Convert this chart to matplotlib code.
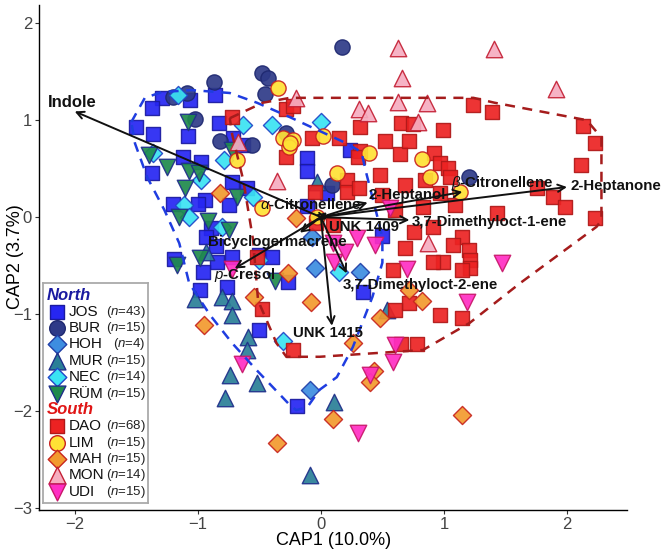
import matplotlib
matplotlib.use("Agg")
import matplotlib.pyplot as plt
import numpy as np

plt.rcParams['font.family'] = ['Liberation Sans', 'DejaVu Sans']
plt.rcParams['mathtext.fontset'] = 'custom'
plt.rcParams['mathtext.rm'] = 'Liberation Sans'
plt.rcParams['mathtext.it'] = 'Liberation Sans:italic'
plt.rcParams['mathtext.bf'] = 'Liberation Sans:bold'

# ---------------- data (CAP1, CAP2) ----------------
JOS_x = [-0.86, -1.06, -1.29, -1.37, -1.50, -1.36, -1.08, -0.83, -0.71, -1.37, -0.97, -0.72, -1.20,
         -0.94, -1.00, -0.75, -0.89, -0.72, -1.19, -0.63, 0.24, -0.11, -0.11, 0.05, -0.11, -0.50,
         -0.40, -0.27, -0.84, -0.96, -0.98, -0.76, -0.50, -0.19, 0.50, 0.34, -0.93, -1.12, -0.60, -0.85]
JOS_y = [1.26, 1.21, 1.23, 1.13, 0.93, 0.86, 0.84, 0.97, 0.82, 0.45, 0.57, 0.36, 0.14,
         0.18, 0.14, 0.12, -0.11, -0.41, -0.43, 0.74, 0.69, 0.61, 0.48, 0.25, 0.11, -0.39,
         -0.41, -0.67, -0.46, -0.57, -0.75, -0.72, -1.16, -1.95, -0.19, -0.77, -0.21, 0.62, 0.30, -0.30]
BUR_x = [0.17, -0.48, -0.43, -0.45, -0.87, -1.09, -1.20, -1.02, -0.82, -0.56, -0.28, 0.09, 1.20]
BUR_y = [1.75, 1.49, 1.43, 1.27, 1.39, 1.28, 1.24, 1.01, 0.79, 0.74, 0.87, 0.33, 0.41]
HOH_x = [-0.07, -0.05, 0.32, -0.09]
HOH_y = [-0.21, -0.52, -0.57, -1.78]
MUR_x = [-0.93, -1.02, -0.80, -0.72, -0.72, -0.59, -0.60, -0.74, -0.52, -0.78, 0.11, -0.09, -0.03, 0.54]
MUR_y = [-0.36, -0.84, -0.82, -0.86, -1.01, -1.24, -1.37, -1.63, -1.71, -1.87, -1.91, -2.66, 0.36, -0.96]
NEC_x = [-1.16, -0.63, -0.40, 0.00, -0.79, -1.36, -0.97, -1.11, -1.07, -0.55, -0.50, 0.15, -0.31, -0.80]
NEC_y = [1.26, 0.95, 0.95, 0.98, 0.59, 0.66, 0.38, 0.12, 0.00, 0.21, -0.44, -0.57, -1.28, -0.10]
RUM_x = [-1.08, -0.72, -1.40, -1.25, -1.07, -0.99, -1.10, -0.68, -1.15, -0.92, -0.75, -0.98, -1.17, -0.37]
RUM_y = [0.98, 0.69, 0.64, 0.52, 0.48, 0.46, 0.30, 0.21, 0.00, -0.04, -0.13, -0.42, -0.49, -0.66]
DAO_x = [-0.28, -0.23, 0.65, 0.75, 0.32, 0.99, 1.24, 1.39, 2.13, 2.23, 2.11, -0.72, -0.07, 0.15,
         0.32, 0.64, 0.92, -0.28, 0.30, 0.21, 0.21, 0.31, -0.05, -0.04, 0.10, 0.50, 0.60, 0.83,
         0.97, 1.03, 1.05, 0.97, 1.43, 1.76, 1.89, 1.98, 2.23, 1.15, 1.20, 1.21, 1.21, 1.15,
         0.99, 0.91, 0.59, 0.72, 0.97, 0.60, 1.15, 0.65, 0.78, -0.48, -0.23, 0.91,
         0.52, 0.72, 0.48, 0.68, 0.85, 0.76, 0.68, 1.07, 1.09, -0.52]
DAO_y = [1.12, 1.15, 0.97, 0.96, 0.93, 0.90, 1.16, 1.08, 0.94, 0.76, 0.54, 1.03, 0.82, 0.82,
         0.68, 0.65, 0.66, 0.62, 0.62, 0.38, 0.26, 0.30, 0.26, -0.06, -0.08, 0.23, 0.07, 0.10,
         0.56, 0.51, 0.41, 0.25, 0.04, 0.30, 0.21, 0.10, -0.01, -0.21, -0.34, -0.44, -0.52, -0.55,
         -0.46, -0.46, -0.55, -0.89, -1.01, -0.96, -1.04, -1.31, -1.31, -0.95, -1.37, -0.10,
         0.79, 0.79, 0.43, 0.33, 0.38, -0.15, -0.32, -0.29, 0.12, -0.41]
LIM_x = [-0.35, -0.31, -0.23, -0.26, 0.02, 0.39, 0.82, -0.68, 0.13, 0.89, 1.13, -0.03, -0.48, -0.25]
LIM_y = [1.33, 0.82, 0.80, 0.72, 0.84, 0.66, 0.60, 0.59, 0.46, 0.41, 0.26, 0.00, 0.09, 0.76]
MAH_x = [-0.82, -0.20, -0.27, -0.54, -0.08, 0.26, 0.48, 0.82, 0.72, 0.43, 0.40, 0.10, -0.36, 1.15, -0.95]
MAH_y = [0.25, -0.01, -0.58, -0.82, -0.88, -1.30, -1.04, -0.86, -0.75, -1.59, -1.70, -2.08, -2.33, -2.04, -1.11]
MON_x = [0.63, 1.41, 0.66, 1.91, -0.20, 0.31, 0.38, 0.63, 0.86, 0.79, -0.67, -0.36, 0.87]
MON_y = [1.74, 1.73, 1.43, 1.32, 1.23, 1.12, 1.07, 1.19, 1.18, 0.98, 0.77, 0.37, -0.27]
UDI_x = [0.29, 0.44, 0.10, 0.11, 0.56, 0.70, 1.47, 1.19, 0.60, 0.59, 0.40, 0.30, -0.72, -0.64, 0.20]
UDI_y = [-0.22, -0.29, -0.27, -0.46, 0.09, -0.53, -0.47, -0.88, -1.32, -1.49, -1.63, -2.23, -0.53, -1.51, -0.36]

north_hull_x = [-1.54, -1.43, -1.29, -1.05, -0.74, -0.52, -0.25, -0.03, 0.21, 0.33, 0.37, 0.46, 0.50, 0.50,
                0.42, 0.26, 0.13, -0.01, -0.11, -0.20, -0.25, -0.52, -0.72, -0.90, -1.07, -1.15, -1.27,
                -1.41, -1.51]
north_hull_y = [0.98, 1.23, 1.29, 1.31, 1.28, 1.18, 1.03, 0.90, 0.76, 0.67, 0.45, 0.00, -0.21, -0.47,
                -0.82, -1.34, -1.65, -1.78, -1.96, -1.99, -1.94, -1.58, -1.30, -1.01, -0.68, -0.27, 0.07,
                0.41, 0.76]
south_hull_x = [-0.74, -0.47, -0.25, 1.24, 1.41, 2.16, 2.28, 2.28, 2.24, 1.62, 1.21, 0.83, -0.01, -0.28,
                -0.36, -0.51, -0.55, -0.63, -0.72]
south_hull_y = [1.02, 1.18, 1.23, 1.23, 1.18, 1.00, 0.82, -0.03, -0.10, -0.68, -1.09, -1.37, -1.44, -1.44,
                -1.30, -0.86, -0.24, 0.38, 0.85]

vec_names = ['Indole', '2-Heptanone', r'$\beta$-Citronellene', '2-Heptanol', r'$\alpha$-Citronellene',
             'UNK 1409', '3,7-Dimethyloct-1-ene', 'Bicyclogermacrene', r'$p$-Cresol',
             '3,7-Dimethyloct-2-ene', 'UNK 1415']
vec_x = [-2.00, 2.00, 1.15, 0.38, 0.05, 0.05, 0.72, -0.17, -0.70, 0.21, 0.09]
vec_y = [1.09, 0.31, 0.26, 0.15, 0.05, -0.02, -0.03, -0.16, -0.53, -0.58, -1.12]
lab_x = [-2.02, 2.03, 1.47, 0.70, -0.08, 0.07, 0.74, -0.35, -0.62, 0.18, 0.06]
lab_y = [1.18, 0.32, 0.35, 0.23, 0.13, -0.10, -0.05, -0.26, -0.60, -0.70, -1.19]
lab_ha = ['center', 'left', 'center', 'center', 'center', 'left', 'left', 'center', 'center', 'left', 'center']
lab_fs = [12, 10.8, 10.8, 10.8, 10.8, 10.8, 10.8, 10.8, 10.8, 10.8, 10.8]

groups = ['JOS', 'BUR', 'HOH', 'MUR', 'NEC', 'RÜM', 'DAO', 'LIM', 'MAH', 'MON', 'UDI']
counts = [43, 15, 4, 15, 14, 15, 68, 15, 15, 14, 15]
gx = [JOS_x, BUR_x, HOH_x, MUR_x, NEC_x, RUM_x, DAO_x, LIM_x, MAH_x, MON_x, UDI_x]
gy = [JOS_y, BUR_y, HOH_y, MUR_y, NEC_y, RUM_y, DAO_y, LIM_y, MAH_y, MON_y, UDI_y]

# ---------------- styles ----------------
markers = ['s', 'o', 'D', '^', 'D', 'v', 's', 'o', 'D', '^', 'v']
sizes = [105, 120, 85, 140, 85, 140, 105, 120, 85, 140, 140]
faces = ['#2626f2', '#2e3a88', '#3d8de0', '#2a7f97', '#3ae3f3', '#1f8a4c',
         '#ec2222', '#ffe135', '#f29a2e', '#f6adc0', '#ff2ec4']
edges = ['#1a1aa0', '#1e2870', '#1f3ea8', '#1f2f8a', '#2046c8', '#1f2f8a',
         '#b01818', '#c8201f', '#c8251e', '#c42035', '#c8186a']

fig = plt.figure(figsize=(6.61, 5.51), dpi=100)
ax = fig.add_axes([0.059, 0.0744, 0.89, 0.917])

for i in range(len(groups)):
    ax.scatter(gx[i], gy[i], marker=markers[i], s=sizes[i], c=faces[i], edgecolors=edges[i],
               linewidths=1.0, alpha=0.92, zorder=3)

ax.plot(north_hull_x + north_hull_x[:1], north_hull_y + north_hull_y[:1], ls=(0, (4, 3)),
        color='#1f3de0', lw=1.8, zorder=4)
ax.plot(south_hull_x + south_hull_x[:1], south_hull_y + south_hull_y[:1], ls=(0, (4, 3)),
        color='#a51c1c', lw=1.8, zorder=4)

for i in range(len(vec_names)):
    ax.annotate('', xy=(vec_x[i], vec_y[i]), xytext=(0, 0),
                arrowprops=dict(arrowstyle='->', lw=1.4, color='#111111', mutation_scale=13,
                                shrinkA=0, shrinkB=0), zorder=5)
    ax.text(lab_x[i], lab_y[i], vec_names[i], ha=lab_ha[i], va='center', fontsize=lab_fs[i],
            fontweight='bold', color='#111111', zorder=6)

ax.set_xlim(-2.29, 2.49)
ax.set_ylim(-3.02, 2.19)
ax.set_xticks([-2, -1, 0, 1, 2])
ax.set_yticks([-3, -2, -1, 0, 1, 2])
ax.tick_params(labelsize=12, colors='#333333', length=3, width=0.8, pad=2)
ax.tick_params(axis='both', labelcolor='#444444')
for s in ['top', 'right']:
    ax.spines[s].set_visible(False)
for s in ['left', 'bottom']:
    ax.spines[s].set_linewidth(1.0)
ax.set_xlabel('CAP1 (10.0%)', fontsize=13, labelpad=0)
fig.text(0.023, 0.535, 'CAP2 (3.7%)', fontsize=13, rotation=90, ha='center', va='center')

# ---------------- legend ----------------
lax = fig.add_axes([0.065, 0.087, 0.159, 0.399])
lax.set_xlim(0, 1)
lax.set_ylim(0, 1)
lax.set_xticks([])
lax.set_yticks([])
lax.patch.set_facecolor('white')
lax.set_zorder(10)
for s in lax.spines.values():
    s.set_edgecolor('#aaaaaa')
    s.set_linewidth(1.3)

row_h = 0.0745
top = 0.945
lax.text(0.04, top, 'North', fontsize=12, fontweight='bold', style='italic', color='#1a1aa0',
         va='center', ha='left')
row = 1
for i in range(len(groups)):
    if i == 6:
        lax.text(0.04, top - row * row_h, 'South', fontsize=12, fontweight='bold', style='italic',
                 color='#e01515', va='center', ha='left')
        row += 1
    yy = top - row * row_h
    lax.scatter([0.135], [yy], marker=markers[i], s=sizes[i] * 1.05, c=faces[i], edgecolors=edges[i],
                linewidths=1.0)
    lax.text(0.245, yy, groups[i], fontsize=11, va='center', ha='left', color='#111111')
    lax.text(0.975, yy, r'($n$=%d)' % counts[i], fontsize=9.5, va='center', ha='right', color='#222222')
    row += 1

fig.savefig('out.png', dpi=100)
